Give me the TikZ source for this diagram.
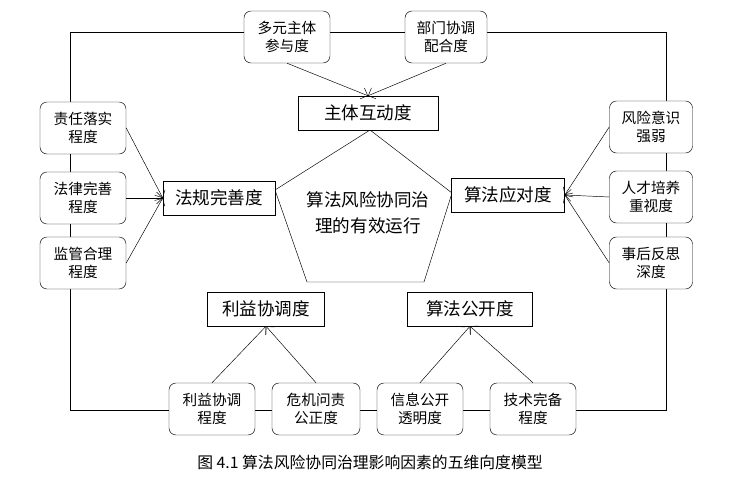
\documentclass[tikz,border=0pt]{standalone}
\usepackage{fontspec}
\setmainfont{Noto Sans CJK SC}
\usetikzlibrary{arrows.meta}
\newlength{\pxunit}
\setlength{\pxunit}{0.03cm}
\tikzset{
  factor/.style = {draw, rounded corners=6pt, fill=white, align=center,
    minimum width=86\pxunit, minimum height=52\pxunit, font=\fontsize{12.5}{15}\selectfont},
  dimension/.style = {draw, fill=white, inner sep=3pt, minimum height=34\pxunit, font=\fontsize{15}{18}\selectfont},
  link/.style = {-{Straight Barb[length=5pt]}},
}
\begin{document}
\begin{tikzpicture}[x=0.03cm, y=-0.03cm]
        \useasboundingbox (0,0) rectangle (750,481);
        % outer frame, drawn under the factor boxes
        \draw (70,410) -- (70,32) -- (666,32) -- (666,410) -- cycle;

        % pentagon
        \draw (370,130) -- (275,190) -- (307,282) -- (424,282) -- (452,193) -- cycle;
        \node[align=center, font=\fontsize{15}{22}\selectfont] (goal) at (368,213) {算法风险协同治\\理的有效运行};

        % dimensions
        \node[dimension, minimum width=140\pxunit] (interact) at (368,113) {主体互动度};
        \node[dimension, minimum width=112\pxunit] (law) at (219,198) {法规完善度};
        \node[dimension, minimum width=113\pxunit] (respond) at (508,195) {算法应对度};
        \node[dimension, minimum width=117\pxunit] (interest) at (266,309) {利益协调度};
        \node[dimension, minimum width=125\pxunit] (open) at (470,309) {算法公开度};

        % factors
        \node[factor] (multi) at (287,37) {多元主体\\参与度};
        \node[factor, minimum width=82\pxunit] (dept) at (446,37) {部门协调\\配合度};
        \node[factor] (duty) at (83,128) {责任落实\\程度};
        \node[factor] (legal) at (83,198) {法律完善\\程度};
        \node[factor] (super) at (83,263) {监管合理\\程度};
        \node[factor, minimum width=83\pxunit] (risk) at (651,127) {风险意识\\强弱};
        \node[factor, minimum width=83\pxunit] (talent) at (651,197) {人才培养\\重视度};
        \node[factor, minimum width=83\pxunit] (reflect) at (651,263) {事后反思\\深度};
        \node[factor] (coord) at (212,409) {利益协调\\程度};
        \node[factor, minimum width=88\pxunit] (crisis) at (316,409) {危机问责\\公正度};
        \node[factor] (info) at (420,409) {信息公开\\透明度};
        \node[factor] (tech) at (533,409) {技术完备\\程度};

        % links
        \draw[link] (multi.south) -- (interact.north);
        \draw[link] (dept.south) -- (interact.north);
        \draw[link] (duty.east) -- (law.west);
        \draw[link] (legal.east) -- (law.west);
        \draw[link] (super.east) -- (law.west);
        \draw[link] (risk.west) -- (respond.east);
        \draw[link] (talent.west) -- (respond.east);
        \draw[link] (reflect.west) -- (respond.east);
        \draw[link] (coord.north) -- (interest.south);
        \draw[link] (crisis.north) -- (interest.south);
        \draw[link] (info.north) -- (open.south);
        \draw[link] (tech.north) -- (open.south);

        \node[font=\fontsize{13.5}{16}\selectfont] (caption) at (370,462) {图 4.1\ 算法风险协同治理影响因素的五维向度模型};
\end{tikzpicture}
\end{document}
